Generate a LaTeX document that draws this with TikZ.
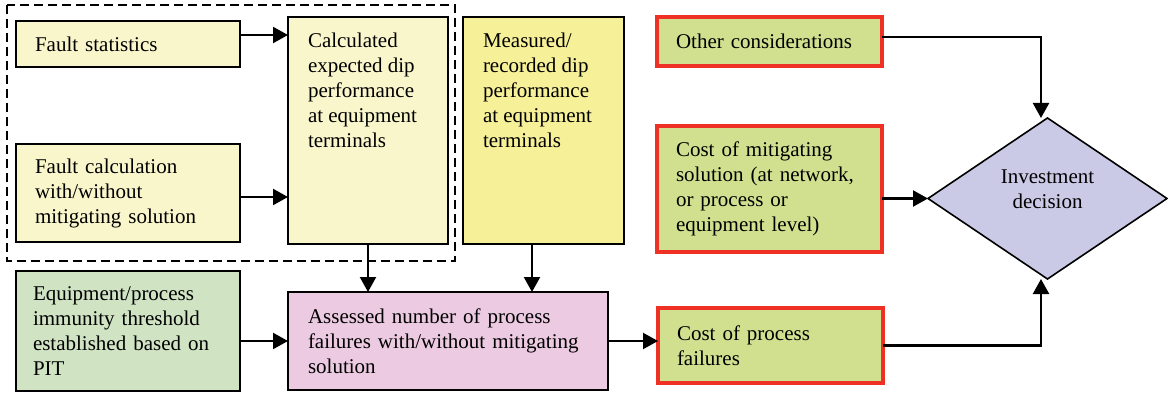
\documentclass[tikz,border=0pt]{standalone}
\usepackage{fontspec}
\setmainfont{Liberation Serif}
\usetikzlibrary{arrows.meta,shapes.geometric}
\definecolor{ltyellow}{RGB}{250,246,204}
\definecolor{yellowb}{RGB}{246,240,152}
\definecolor{ltgreen}{RGB}{208,228,196}
\definecolor{pinkb}{RGB}{236,202,225}
\definecolor{oliveb}{RGB}{208,224,143}
\definecolor{redb}{RGB}{238,49,36}
\definecolor{lavenderb}{RGB}{203,202,230}
\begin{document}
\begin{tikzpicture}[x=1pt,y=-1pt,
  font=\fontsize{21}{25}\selectfont,
  box/.style={draw=black,line width=2.4pt,anchor=north west,inner xsep=19pt,inner ysep=0pt,align=left,outer sep=0pt},
  redbox/.style={box,draw=redb,line width=3.6pt,fill=oliveb},
  arr/.style={line width=2.2pt,-{Triangle[length=15pt,width=16pt]}},
  groupline/.style={line width=2.6pt,dash pattern=on 9pt off 5pt}
]
\useasboundingbox (0,0) rectangle (1168,396);
\draw[groupline] (7,5) rectangle (455,261);

\node[box,fill=ltyellow,minimum width=224pt,minimum height=46pt,text width=186pt] (fs) at (16,21) {Fault statistics};
\node[box,fill=ltyellow,minimum width=224pt,minimum height=98pt,text width=186pt] (fc) at (16,144) {Fault calculation\\with/without\\mitigating solution};
\node[box,fill=ltyellow,inner xsep=20pt] (calc) at (288,17) {\parbox[c][227pt][t]{120pt}{\rule{0pt}{30pt}Calculated\\expected dip\\performance\\at equipment\\terminals}};
\node[box,fill=yellowb,inner xsep=20pt] (meas) at (463,17) {\parbox[c][227pt][t]{121pt}{\rule{0pt}{30pt}Measured/\\recorded dip\\performance\\at equipment\\terminals}};
\node[box,fill=ltgreen,inner xsep=17pt,minimum width=224pt,minimum height=120pt,text width=190pt] (equip) at (16,271) {Equipment/process\\immunity threshold\\established based on\\PIT};
\node[box,fill=pinkb,inner xsep=20pt,minimum width=320pt,minimum height=98pt,text width=280pt] (assess) at (288,292) {Assessed number of process\\failures with/without mitigating\\solution};

\node[redbox,minimum width=223pt,minimum height=49pt,text width=187pt] (other) at (657,17) {Other considerations};
\node[redbox,minimum width=223pt,minimum height=126pt,text width=187pt] (costmit) at (657,126) {Cost of mitigating\\solution (at network,\\or process or\\equipment level)};
\node[redbox,minimum width=223pt,minimum height=75pt,text width=187pt] (fail) at (658,308) {Cost of process\\failures};

\node[diamond,draw=black,line width=1.6pt,fill=lavenderb,minimum width=239pt,minimum height=161pt,inner sep=0pt,outer sep=0pt,
  label={[align=center,yshift=9pt]center:Investment\\decision}] (dec) at (1047.5,198.5) {};

\draw[arr] (fs.east |- 0,35) -- (calc.west |- 0,35);
\draw[arr] (fc.east |- 0,197) -- (calc.west |- 0,197);
\draw[arr] (calc.south) -- (calc.south |- assess.north);
\draw[arr] (meas.south -| 532,0) -- (assess.north -| 532,0);
\draw[arr] (equip.east |- assess.west) -- (assess.west);
\draw[arr] (assess.east) -- (assess.east -| fail.west);
\draw[arr] (other.east |- 0,37) -| (dec.north -| 1041,0);
\draw[arr] (costmit.east |- dec.west) -- (dec.west);
\draw[arr] (fail.east) -| (dec.south -| 1041,0);
\end{tikzpicture}
\end{document}
